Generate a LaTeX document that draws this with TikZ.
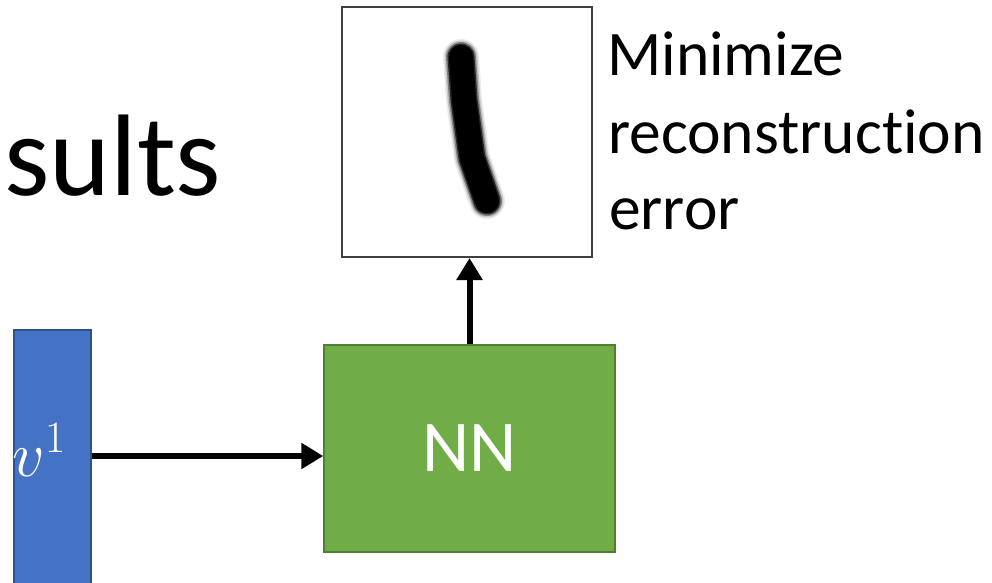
\documentclass[tikz,border=0pt]{standalone}
\usepackage{fix-cm}
\usepackage{fontspec}
\setmainfont[Ligatures=NoCommon]{Carlito}
\usetikzlibrary{arrows.meta}
\definecolor{barblue}{HTML}{4472C4}
\definecolor{barblueedge}{HTML}{2F528F}
\definecolor{nngreen}{HTML}{70AD47}
\definecolor{nngreenedge}{HTML}{507E32}
\definecolor{frameedge}{HTML}{404040}
\tikzset{
  vecbar/.style={rectangle, fill=barblue, draw=barblueedge, line width=1.2pt,
    minimum width=77pt, minimum height=260pt, inner sep=0pt},
  netbox/.style={rectangle, fill=nngreen, draw=nngreenedge, line width=1.5pt,
    minimum width=291pt, minimum height=207pt, inner sep=0pt,
    text=white, font=\fontsize{73}{80}\selectfont},
  imgframe/.style={rectangle, fill=white, draw=frameedge, line width=2pt,
    minimum width=250pt, minimum height=250pt, inner sep=0pt},
  flow/.style={line width=6pt, -{Triangle[length=22pt, width=25pt]}},
  caption/.style={anchor=base west, inner sep=0pt, font=\fontsize{63.5}{77}\selectfont},
}
\begin{document}
\begin{tikzpicture}[x=1pt, y=-1pt]
  \useasboundingbox (0,0) rectangle (992,582);
  \clip (0,0) rectangle (992,582);
  \fill[white] (0,0) rectangle (992,582);

  % cut-off slide title
  \node[anchor=base west, inner sep=0pt, font=\fontsize{116}{130}\selectfont]
    (title) at (4,195) {sults};

  % input vector, network and reconstructed image
  \node[vecbar] (vbar) at (52.5,460) {};
  \node[text=white, inner sep=0pt, anchor=base west, font=\fontsize{64}{70}\selectfont]
    (vlabel) at (12,476) {$v^1$};
  \node[netbox] (nn) at (469.5,448.5) {NN};
  \node[imgframe] (digit) at (467,132) {};

  % blurred handwritten "1"
  \foreach \w/\c in {36/black!8, 33/black!22, 30/black!50, 27/black!85, 24/black} {
    \draw[line width=\w pt, color=\c, line cap=round, line join=round]
      (461,57) -- (464,100) -- (472,158) -- (487,201);
  }

  % connectors
  \draw[flow] (vbar.east |- 0,456) -- (nn.west |- 0,456);
  \draw[flow] (nn.north) -- (nn.north |- digit.south);

  % objective
  \node[caption] (cap1) at (607,75) {Minimize};
  \node[caption] (cap2) at (608,153) {reconstruction};
  \node[caption] (cap3) at (609,229) {error};
\end{tikzpicture}
\end{document}
